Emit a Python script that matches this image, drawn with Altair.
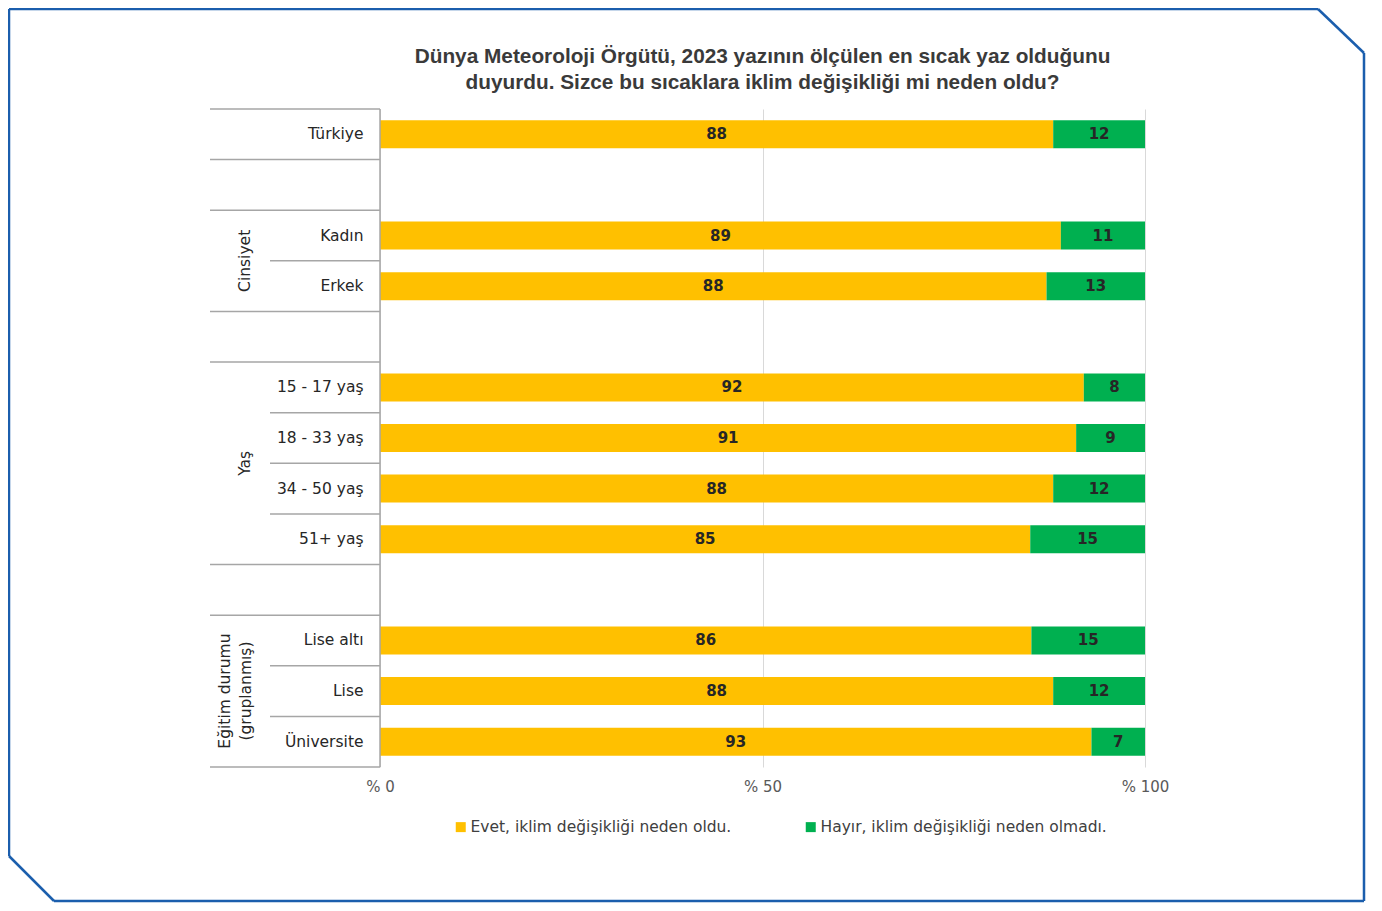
import altair as alt
import pandas as pd

title_lines = [
    "Dünya Meteoroloji Örgütü, 2023 yazının ölçülen en sıcak yaz olduğunu",
    "duyurdu. Sizce bu sıcaklara iklim değişikliği mi neden oldu?",
]
rows = ["Türkiye", " ", "Kadın", "Erkek", "  ", "15 - 17 yaş", "18 - 33 yaş",
        "34 - 50 yaş", "51+ yaş", "   ", "Lise altı", "Lise", "Üniversite"]
bar_rows = ["Türkiye", "Kadın", "Erkek", "15 - 17 yaş", "18 - 33 yaş",
            "34 - 50 yaş", "51+ yaş", "Lise altı", "Lise", "Üniversite"]
evet = [88, 89, 88, 92, 91, 88, 85, 86, 88, 93]
hayir = [12, 11, 13, 8, 9, 12, 15, 15, 12, 7]
series = ["Evet, iklim değişikliği neden oldu.", "Hayır, iklim değişikliği neden olmadı."]
colors = ["#FFC000", "#00B050"]
tick_values = [0, 50, 100]

full_sep = ["Türkiye", " ", "Kadın", "  ", "15 - 17 yaş", "   ", "Lise altı"]
short_sep = ["Erkek", "18 - 33 yaş", "34 - 50 yaş", "51+ yaş", "Lise", "Üniversite"]
groups_edge = ["Cinsiyet", "Yaş"]
groups_edge_rows = ["Erkek", "34 - 50 yaş"]
groups_mid = ["Eğitim durumu\n(gruplanmış)"]
groups_mid_rows = ["Lise"]

recs = []
for r, a, b in zip(bar_rows, evet, hayir):
    recs.append({"row": r, "series": series[0], "value": a, "order": 0})
    recs.append({"row": r, "series": series[1], "value": b, "order": 1})
df = pd.DataFrame(recs)

W, H = 765, 658
FONT = "DejaVu Sans"
SEP = "#a6a6a6"

yscale = alt.Scale(domain=rows, paddingInner=0, paddingOuter=0)

base = alt.Chart(df).transform_stack(
    stack="value", groupby=["row"], sort=[alt.SortField("order")],
    as_=["v0", "v1"], offset="normalize"
).transform_calculate(mid="(datum.v0 + datum.v1) / 2")

xaxis = alt.Axis(
    title=None, values=[v / 100 for v in tick_values],
    labelExpr="'% ' + round(datum.value * 100)",
    grid=True, gridColor="#d9d9d9", gridWidth=1,
    ticks=False, domain=False, labelPadding=12, labelFlush=False, labelOverlap=False,
    labelFont=FONT, labelFontSize=15, labelColor="#595959",
)
yaxis = alt.Axis(
    title=None, ticks=False, domain=False, grid=False, labelPadding=17,
    labelFont=FONT, labelFontSize=15.5, labelColor="#262626", labelLimit=0,
)

bars = base.mark_bar(height={"band": 0.553}).encode(
    x=alt.X("v0:Q", scale=alt.Scale(domain=[0, 1], nice=False), axis=xaxis),
    x2="v1:Q",
    y=alt.Y("row:N", sort=rows, scale=yscale, axis=yaxis),
    color=alt.Color(
        "series:N",
        scale=alt.Scale(domain=series, range=colors),
        legend=alt.Legend(
            title=None, orient="none", legendX=73, legendY=710,
            direction="horizontal", symbolType="square", symbolSize=100,
            symbolStrokeWidth=0, labelFont=FONT, labelFontSize=15.5,
            labelColor="#404040", labelLimit=0, columnPadding=71, labelOffset=2,
        ),
    ),
)

texts = base.mark_text(font=FONT, fontWeight="bold", fontSize=15, color="#262626").encode(
    x="mid:Q",
    y=alt.Y("row:N", sort=rows),
    text="value:Q",
)

full_rules = alt.Chart(pd.DataFrame({"row": full_sep})).mark_rule(color=SEP, strokeWidth=1.5).encode(
    y=alt.Y("row:N", sort=rows, bandPosition=0),
    x=alt.value(-170), x2=alt.value(0),
)
short_rules = alt.Chart(pd.DataFrame({"row": short_sep})).mark_rule(color=SEP, strokeWidth=1.5).encode(
    y=alt.Y("row:N", sort=rows, bandPosition=0),
    x=alt.value(-110), x2=alt.value(0),
)
bottom_rule = alt.Chart(pd.DataFrame({"row": [rows[-1]]})).mark_rule(color=SEP, strokeWidth=1.5).encode(
    y=alt.Y("row:N", sort=rows, bandPosition=1),
    x=alt.value(-170), x2=alt.value(0),
)
left_rule = alt.Chart(pd.DataFrame({"row": [rows[0]]})).mark_rule(color=SEP, strokeWidth=1.5).encode(
    x=alt.value(0), y=alt.value(0), y2=alt.value(H),
)

grp_edge = alt.Chart(pd.DataFrame({"row": groups_edge_rows, "label": groups_edge})).mark_text(
    font=FONT, fontSize=15.5, color="#262626", angle=270, align="center", baseline="middle"
).encode(
    y=alt.Y("row:N", sort=rows, bandPosition=0),
    x=alt.value(-135),
    text="label:N",
)
grp_mid = alt.Chart(pd.DataFrame({"row": groups_mid_rows, "label": groups_mid})).mark_text(
    font=FONT, fontSize=15.5, color="#262626", angle=270, align="center", baseline="middle",
    lineBreak="\n", lineHeight=21,
).encode(
    y=alt.Y("row:N", sort=rows, bandPosition=0.5),
    x=alt.value(-155),
    text="label:N",
)

title_text = alt.Chart(pd.DataFrame({"label": ["\n".join(title_lines)]})).mark_text(
    font="Liberation Sans", fontWeight="bold", fontSize=20.8, color="#3a3a3a",
    align="center", baseline="alphabetic", lineBreak="\n", lineHeight=26,
).encode(
    x=alt.value(W / 2), y=alt.value(-46), text="label:N",
)

# decorative frame (pixel offsets relative to the plot area)
BLUE = "#1B5EAD"
frame_segments = [
    (-371, -100, 938, -100),
    (938, -100, 984, -56),
    (984, -56, 984, 792),
    (984, 792, -326, 792),
    (-326, 792, -371, 747),
    (-371, 747, -371, -100),
]
frame_layers = []
for (x1, y1, x2, y2) in frame_segments:
    frame_layers.append(
        alt.Chart(pd.DataFrame({"row": [rows[0]]})).mark_rule(color=BLUE, strokeWidth=2.5).encode(
            x=alt.value(x1), y=alt.value(y1), x2=alt.value(x2), y2=alt.value(y2)
        )
    )

chart = alt.layer(
    *frame_layers, bars, texts, full_rules, short_rules, bottom_rule, left_rule,
    grp_edge, grp_mid, title_text
).properties(
    width=W, height=H,
    padding={"left": 372, "top": 101, "right": 229, "bottom": 136},
    autosize=alt.AutoSizeParams(type="none"),
    background="white",
).configure_view(stroke="transparent")

chart.save("out.html", embed_options={"renderer": "svg", "actions": False})
